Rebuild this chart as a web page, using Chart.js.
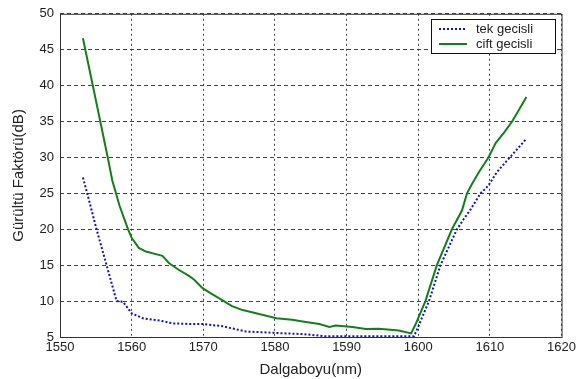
<!DOCTYPE html>
<html>
<head>
<meta charset="utf-8">
<script src="https://cdn.jsdelivr.net/npm/chart.js@4.4.1/dist/chart.umd.min.js"></script>
<style>
  html, body { margin: 0; padding: 0; background: #fff; }
  #wrap { width: 579px; height: 379px; }
</style>
</head>
<body>
<div id="wrap"><canvas id="noiseChart" width="579" height="379"></canvas></div>
<script>
// wavelength (nm) / noise figure (dB)
const tekX = [1553.2, 1553.8, 1555.1, 1556.5, 1557.9, 1558.8, 1560, 1561.6, 1563.9, 1565.7, 1568.5, 1570, 1572.7, 1576, 1579.6, 1581.5, 1584, 1587.1, 1594.5, 1599.4, 1599.9, 1601.5, 1603.1, 1605.4, 1606.4, 1607.2, 1608.7, 1609.8, 1611, 1612.6, 1615.1];
const tekY = [27.2, 25, 20, 15, 10, 9.9, 8.3, 7.6, 7.3, 6.9, 6.8, 6.8, 6.5, 5.75, 5.6, 5.5, 5.4, 5.1, 5.1, 5.1, 6.2, 10, 15, 20, 21.5, 22.6, 25, 26.1, 28, 29.8, 32.6];

const ciftX = [1553.2, 1555, 1556.6, 1557.3, 1558.3, 1559.5, 1560, 1561, 1562, 1563.5, 1564.3, 1565.2, 1566.5, 1568, 1568.7, 1569.9, 1571, 1572.7, 1574, 1575.5, 1577.8, 1580.2, 1582.4, 1584.3, 1586.2, 1587.6, 1588.5, 1590.8, 1592.7, 1594.5, 1597.3, 1599, 1599.6, 1601, 1602.6, 1604.7, 1606.1, 1606.8, 1607.5, 1608.5, 1609.8, 1610.8, 1612, 1613.1, 1615.1];
const ciftY = [46.6, 38, 30.3, 26.8, 23.3, 20, 18.8, 17.4, 16.9, 16.5, 16.3, 15.3, 14.4, 13.5, 13, 11.8, 11.1, 10.1, 9.3, 8.75, 8.2, 7.6, 7.4, 7.1, 6.8, 6.4, 6.6, 6.4, 6.1, 6.15, 5.9, 5.5, 6.7, 10, 15, 20, 22.6, 25, 26.3, 28, 30, 32, 33.5, 35, 38.4];

const seriesNames = ['tek gecisli', 'cift gecisli'];
const xTicks = [1550, 1560, 1570, 1580, 1590, 1600, 1610, 1620];
const yTicks = [5, 10, 15, 20, 25, 30, 35, 40, 45, 50];

const toPoints = (xs, ys) => xs.map((x, i) => ({ x: x, y: ys[i] }));

const textColor = '#222';
const fontFamily = 'Arial, "Liberation Sans", sans-serif';

// matlab style box around the axes + legend inside the plot
const boxPlugin = {
    id: 'boxPlugin',
    afterDraw(chart) {
        const { ctx, chartArea: a } = chart;
        ctx.save();
        ctx.strokeStyle = '#333';
        ctx.lineWidth = 1;
        ctx.setLineDash([]);
        ctx.strokeRect(a.left + 0.5, a.top + 0.5, a.right - a.left, a.bottom - a.top);

        // legend
        const bx = 431, by = 19, bw = 124, bh = 34;
        ctx.fillStyle = '#fff';
        ctx.fillRect(bx, by, bw, bh);
        ctx.strokeStyle = '#111';
        ctx.strokeRect(bx + 0.5, by + 0.5, bw, bh);
        ctx.font = '13px ' + fontFamily;
        ctx.textBaseline = 'middle';
        chart.data.datasets.forEach((ds, i) => {
            const yy = by + 10 + i * 15;
            ctx.strokeStyle = ds.borderColor;
            ctx.lineWidth = ds.borderWidth;
            ctx.setLineDash(ds.borderDash || []);
            ctx.beginPath();
            ctx.moveTo(bx + 8, yy);
            ctx.lineTo(bx + 36, yy);
            ctx.stroke();
            ctx.setLineDash([]);
            ctx.fillStyle = textColor;
            ctx.fillText(ds.label, bx + 45, yy);
        });
        ctx.restore();
    }
};

const chartCtx = document.getElementById('noiseChart').getContext('2d');

const noiseChart = new Chart(chartCtx, {
    type: 'scatter',
    data: {
        datasets: [{
            label: seriesNames[0],
            data: toPoints(tekX, tekY),
            showLine: true,
            borderColor: '#1010c8',
            borderWidth: 2,
            borderDash: [2, 2],
            pointRadius: 0,
            tension: 0,
        }, {
            label: seriesNames[1],
            data: toPoints(ciftX, ciftY),
            showLine: true,
            borderColor: '#12801a',
            borderWidth: 2,
            pointRadius: 0,
            tension: 0,
        }],
    },
    options: {
        responsive: false,
        animation: false,
        layout: {
            padding: { top: 13, right: 15, left: 10, bottom: 0 },
        },
        plugins: {
            legend: { display: false },
            tooltip: { enabled: false },
        },
        scales: {
            x: {
                type: 'linear',
                min: 1550,
                max: 1620,
                afterBuildTicks: (scale) => { scale.ticks = xTicks.map(v => ({ value: v })); },
                ticks: {
                    color: textColor,
                    font: { size: 13, family: fontFamily },
                    padding: 3,
                    callback: (v) => String(v),
                },
                grid: { color: '#444', drawTicks: false, lineWidth: 1 },
                border: { display: false, dash: [2, 3] },
                title: {
                    display: true,
                    text: 'Dalgaboyu(nm)',
                    color: textColor,
                    font: { size: 15, family: fontFamily },
                    padding: { top: 2, bottom: 0 },
                },
                afterFit: (scale) => { scale.height = 42; },
            },
            y: {
                min: 5,
                max: 50,
                afterBuildTicks: (scale) => { scale.ticks = yTicks.map(v => ({ value: v })); },
                ticks: {
                    color: textColor,
                    font: { size: 13, family: fontFamily },
                    padding: 6,
                },
                grid: { color: '#444', drawTicks: false, lineWidth: 1 },
                border: { display: false, dash: [4, 3] },
                title: {
                    display: true,
                    text: 'Gürültü Faktörü(dB)',
                    color: textColor,
                    font: { size: 15, family: fontFamily },
                    padding: { top: 0, bottom: 4 },
                },
                afterFit: (scale) => { scale.width = 50; },
            },
        },
    },
    plugins: [boxPlugin],
});
</script>
</body>
</html>
